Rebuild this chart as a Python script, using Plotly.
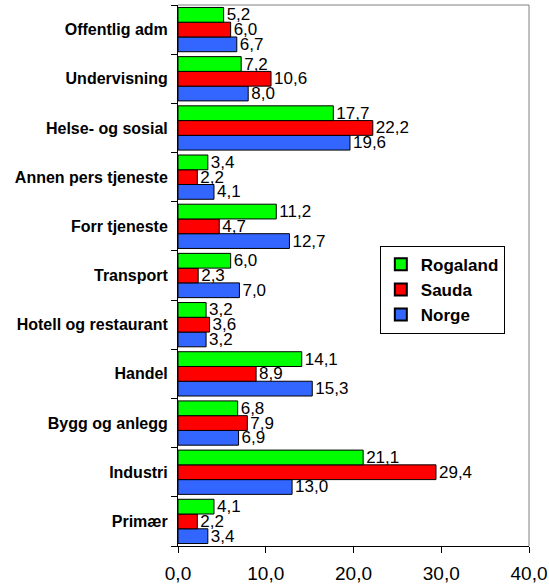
import plotly.graph_objects as go

# categories from bottom to top
categories = ["Primær", "Industri", "Bygg og anlegg", "Handel", "Hotell og restaurant",
              "Transport", "Forr tjeneste", "Annen pers tjeneste", "Helse- og sosial",
              "Undervisning", "Offentlig adm"]

rogaland = [4.1, 21.1, 6.8, 14.1, 3.2, 6.0, 11.2, 3.4, 17.7, 7.2, 5.2]
sauda = [2.2, 29.4, 7.9, 8.9, 3.6, 2.3, 4.7, 2.2, 22.2, 10.6, 6.0]
norge = [3.4, 13.0, 6.9, 15.3, 3.2, 7.0, 12.7, 4.1, 19.6, 8.0, 6.7]

x_ticks = [0, 10, 20, 30, 40]

# first trace sits lowest in each group, so Norge goes first
series = [("Norge", norge, "#3366FF"),
          ("Sauda", sauda, "#FF0000"),
          ("Rogaland", rogaland, "#00FF00")]

fig = go.Figure()
for name, vals, col in series:
    fig.add_trace(go.Bar(
        y=categories, x=vals, name=name, orientation="h",
        marker=dict(color=col, line=dict(color="#000000", width=1)),
        texttemplate="%{x:.1f}", textposition="outside", constraintext="none",
        textfont=dict(family="Liberation Sans, Arial", size=17, color="#000000"),
        cliponaxis=False,
    ))

fig.update_layout(
    width=549, height=585,
    margin=dict(l=178, r=20, t=5, b=39),
    barmode="group", bargap=0.1, bargroupgap=0,
    separators=",.",
    plot_bgcolor="white", paper_bgcolor="white",
    font=dict(family="Liberation Sans, Arial", color="#000000"),
    legend=dict(
        x=0.575, y=0.555, xanchor="left", yanchor="top",
        traceorder="reversed",
        bordercolor="#000000", borderwidth=1, bgcolor="white",
        font=dict(size=17, family="Liberation Sans, Arial", weight="bold"),
        itemsizing="constant", itemwidth=30,
    ),
)

fig.update_xaxes(
    range=[0, 40], tickvals=x_ticks, tickformat=".1f",
    ticks="outside", ticklen=6, tickcolor="#000000",
    showgrid=False, zeroline=False, automargin=False,
    showline=True, linecolor="#000000", linewidth=1, mirror=False,
    tickfont=dict(size=19), ticklabelstandoff=4,
)
fig.update_yaxes(
    type="category", tickson="boundaries",
    ticks="outside", ticklen=6, tickcolor="#000000",
    showgrid=False, zeroline=False, automargin=False,
    showline=True, linecolor="#000000", linewidth=1,
    tickfont=dict(size=16, weight="bold"),
    ticklabelstandoff=6,
)

# grey top and right frame lines
fig.add_shape(type="line", xref="paper", yref="paper", x0=0, x1=1, y0=1, y1=1,
              line=dict(color="#808080", width=1))
fig.add_shape(type="line", xref="paper", yref="paper", x0=1, x1=1, y0=0, y1=1,
              line=dict(color="#808080", width=1))

# drop the default page margin so the figure sits at the window corner
fig.write_html("out.html", config={"displayModeBar": False},
               post_script="document.body.style.margin='0';")
